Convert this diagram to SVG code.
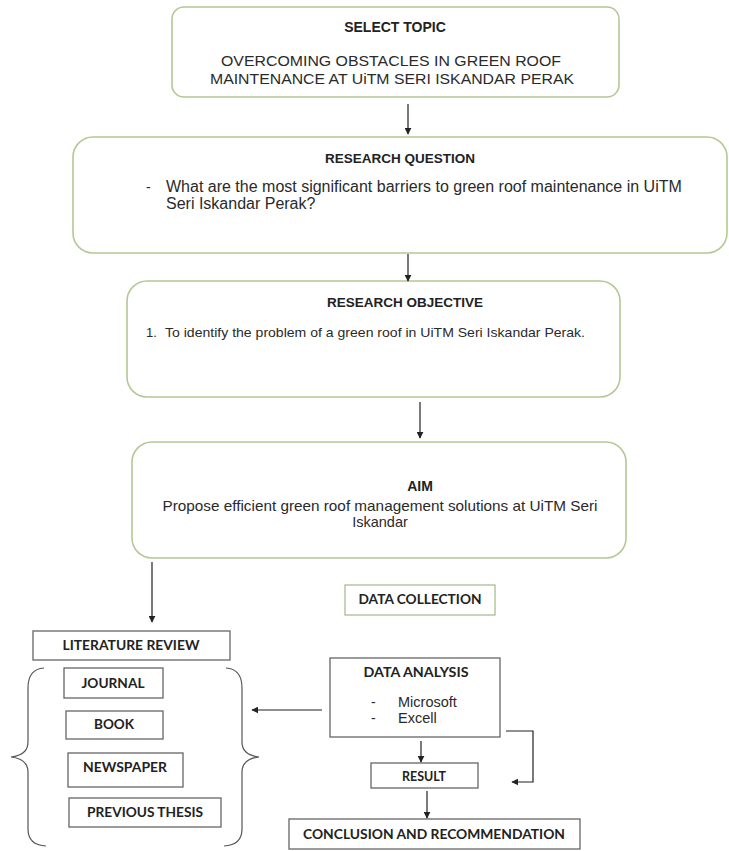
<svg xmlns="http://www.w3.org/2000/svg" width="729" height="851" viewBox="0 0 729 851">
<defs>
<style>
.gbox{fill:#ffffff;stroke:#b3c994;stroke-width:1.6}
.bbox{fill:#ffffff;stroke:#666666;stroke-width:1.3}
.cbox{fill:#ffffff;stroke:#a8bf95;stroke-width:1.3}
.hd{font-family:"Liberation Sans",Arial,sans-serif;font-weight:bold;fill:#222;text-anchor:middle}
.tx{font-family:"Liberation Sans",Arial,sans-serif;fill:#2a2a2a}
.lb{font-family:Lato,"Liberation Sans",sans-serif;font-weight:bold;fill:#222;text-anchor:middle}
.ln{fill:none;stroke:#222;stroke-width:1.2}
.br{fill:none;stroke:#555;stroke-width:1.2}
</style>
<marker id="ah" viewBox="0 0 10 10" refX="9" refY="5" markerWidth="7" markerHeight="7" orient="auto" markerUnits="userSpaceOnUse">
<path d="M0,0 L10,5 L0,10 z" fill="#222"/>
</marker>
</defs>
<rect width="729" height="851" fill="#ffffff"/>

<g id="select-topic">
<rect class="gbox" x="172" y="7" width="447" height="90" rx="12"/>
<text class="hd" x="395" y="32" font-size="14">SELECT TOPIC</text>
<text class="tx" x="391" y="66" font-size="15" text-anchor="middle" textLength="340" lengthAdjust="spacingAndGlyphs">OVERCOMING OBSTACLES IN GREEN ROOF</text>
<text class="tx" x="392" y="84" font-size="15" text-anchor="middle" textLength="364" lengthAdjust="spacingAndGlyphs">MAINTENANCE AT UiTM SERI ISKANDAR PERAK</text>
</g>

<g id="research-question">
<rect class="gbox" x="73" y="137" width="654" height="116" rx="20"/>
<text class="hd" x="400" y="163" font-size="13.5">RESEARCH QUESTION</text>
<text class="tx" x="146" y="192" font-size="14">-</text>
<text class="tx" x="166" y="192" font-size="16">What are the most significant barriers to green roof maintenance in UiTM</text>
<text class="tx" x="166" y="209" font-size="16">Seri Iskandar Perak?</text>
</g>

<g id="research-objective">
<rect class="gbox" x="127" y="281" width="493" height="116" rx="20"/>
<text class="hd" x="405" y="307" font-size="13.5">RESEARCH OBJECTIVE</text>
<text class="tx" x="146" y="337" font-size="13">1.</text>
<text class="tx" x="165" y="337" font-size="13.5" textLength="420" lengthAdjust="spacingAndGlyphs">To identify the problem of a green roof in UiTM Seri Iskandar Perak.</text>
</g>

<g id="aim">
<rect class="gbox" x="132" y="442" width="494" height="116" rx="20"/>
<text class="hd" x="420" y="491" font-size="14">AIM</text>
<text class="tx" x="380" y="511" font-size="14.5" text-anchor="middle" textLength="435" lengthAdjust="spacingAndGlyphs">Propose efficient green roof management solutions at UiTM Seri</text>
<text class="tx" x="380" y="527" font-size="14.5" text-anchor="middle">Iskandar</text>
</g>

<g id="data-collection">
<rect class="cbox" x="345" y="585" width="150" height="30"/>
<text class="lb" x="420" y="604" font-size="12.5" textLength="123" lengthAdjust="spacingAndGlyphs">DATA COLLECTION</text>
</g>

<g id="literature-review">
<rect class="bbox" x="33" y="631" width="197" height="29"/>
<text class="lb" x="131" y="650" font-size="12.5" textLength="137" lengthAdjust="spacingAndGlyphs">LITERATURE REVIEW</text>
</g>

<g id="sources-bracket">
<path class="br" d="M44 668 Q28 669 28 688 L28 742 Q28 755 11 757 Q28 759 28 772 L28 829 Q28 845 46 846"/>
<path class="br" d="M226 668 Q242 669 242 688 L242 742 Q242 755 259 757 Q242 759 242 772 L242 829 Q242 845 224 846"/>
</g>

<g id="journal">
<rect class="bbox" x="64" y="668" width="99" height="30"/>
<text class="lb" x="113" y="688" font-size="12.5" textLength="63" lengthAdjust="spacingAndGlyphs">JOURNAL</text>
</g>

<g id="book">
<rect class="bbox" x="66" y="711" width="97" height="28"/>
<text class="lb" x="114" y="729" font-size="12.5" textLength="40" lengthAdjust="spacingAndGlyphs">BOOK</text>
</g>

<g id="newspaper">
<rect class="bbox" x="68" y="753" width="115" height="34"/>
<text class="lb" x="125" y="772" font-size="12.5" textLength="84" lengthAdjust="spacingAndGlyphs">NEWSPAPER</text>
</g>

<g id="previous-thesis">
<rect class="bbox" x="69" y="798" width="152" height="29"/>
<text class="lb" x="145" y="817" font-size="12.5" textLength="116" lengthAdjust="spacingAndGlyphs">PREVIOUS THESIS</text>
</g>

<g id="data-analysis">
<rect class="bbox" x="330" y="658" width="170" height="79"/>
<text class="lb" x="416" y="677" font-size="12.5" textLength="105" lengthAdjust="spacingAndGlyphs">DATA ANALYSIS</text>
<text class="tx" x="371" y="707" font-size="14">-</text>
<text class="tx" x="398" y="707" font-size="14.5">Microsoft</text>
<text class="tx" x="371" y="723" font-size="14">-</text>
<text class="tx" x="398" y="723" font-size="14.5">Excell</text>
</g>

<g id="result">
<rect class="bbox" x="371" y="763" width="107" height="25"/>
<text class="lb" x="424" y="781" font-size="12.5" textLength="44" lengthAdjust="spacingAndGlyphs">RESULT</text>
</g>

<g id="conclusion">
<rect class="bbox" x="289" y="819" width="291" height="30"/>
<text class="lb" x="434" y="839" font-size="12.5" textLength="262" lengthAdjust="spacingAndGlyphs">CONCLUSION AND RECOMMENDATION</text>
</g>

<g id="connectors">
<path class="ln" d="M408 104 V134" marker-end="url(#ah)"/>
<path class="ln" d="M408 254 V281" marker-end="url(#ah)"/>
<path class="ln" d="M420 402 V438" marker-end="url(#ah)"/>
<path class="ln" d="M152 562 V622" marker-end="url(#ah)"/>
<path class="ln" d="M322 710 H252" marker-end="url(#ah)"/>
<path class="ln" d="M421 741 V762" marker-end="url(#ah)"/>
<path class="ln" d="M506 731 H533 V782 H512" marker-end="url(#ah)"/>
<path class="ln" d="M427 791 V818" marker-end="url(#ah)"/>
</g>
</svg>
